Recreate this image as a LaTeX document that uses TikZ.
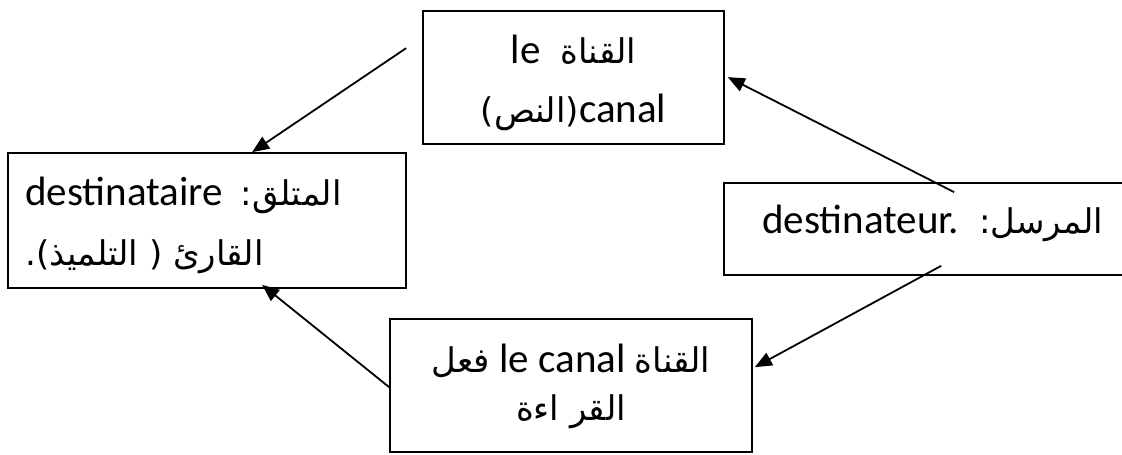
\documentclass[tikz,border=0pt]{standalone}
\usepackage{fontspec}
\setmainfont{Carlito}
\newfontfamily\latf{Carlito}
\newfontfamily\arabicfont[Script=Arabic]{DejaVu Sans}
\TeXXeTstate=1
\usetikzlibrary{arrows.meta}
\newcommand\arf{\arabicfont\fontsize{34}{40}\selectfont}
\newcommand\ltf{\latf\fontsize{41}{48}\selectfont}
\begin{document}
\begin{tikzpicture}[x=1pt,y=-1pt,
  box/.style={draw, line width=1.7pt, rectangle, inner sep=0pt},
  txt/.style={inner sep=0pt, font=\ltf},
  arr/.style={line width=1.8pt, -{Triangle[length=17pt,width=14pt]}}]
\useasboundingbox (0,0) rectangle (1122,455);
\clip (0,0) rectangle (1122,455);
% boxes
\node[box, minimum width=301pt, minimum height=133pt] (top) at (573.5,77.5) {};
\node[box, minimum width=398pt, minimum height=135pt] (left) at (207,220.5) {};
\node[box, minimum width=411pt, minimum height=92pt] (right) at (929.5,229) {};
\node[box, minimum width=362pt, minimum height=133pt] (bottom) at (571,385.5) {};
% texts
\node[txt, anchor=base] (t1) at (573.5,63) {\beginR{\arf القناة}\hspace{20pt}\beginL le\endL\endR};
\node[txt, anchor=base] (t2) at (573.5,122) {\beginR\beginL canal\endL{\arf (النص)}\endR};
\node[txt, anchor=base west] (l1) at (25,205) {\beginR{\arf المتلق:}\hspace{18pt}\beginL destinataire\endL\endR};
\node[txt, anchor=base west] (l2) at (25,265) {\beginR{\arf القارئ ( التلميذ).}\endR};
\node[txt, anchor=base west] (r1) at (762,233) {\beginR{\arf المرسل:}\hspace{20pt}\beginL destinateur.\endL\endR};
\node[txt, anchor=base] (b1) at (571,372) {\beginR{\arf القناة} \beginL le canal\endL{} {\arf فعل}\endR};
\node[txt, anchor=base] (b2) at (571,420) {\beginR{\arf القر اءة}\endR};
% connectors
\coordinate (s1) at ([xshift=-16pt,yshift=-38pt]top.north west);
\draw[arr] (s1) -- ([xshift=245pt]left.north west);
\draw[arr] ([xshift=231pt,yshift=-10pt]right.north west) -- ([xshift=3pt,yshift=-67pt]top.north east);
\draw[arr] ([xshift=218pt,yshift=10pt]right.south west) -- ([xshift=2pt,yshift=-49pt]bottom.north east);
\draw[arr] ([yshift=-69pt]bottom.north west) -- ([xshift=255pt,yshift=4pt]left.south west);
\end{tikzpicture}
\end{document}
